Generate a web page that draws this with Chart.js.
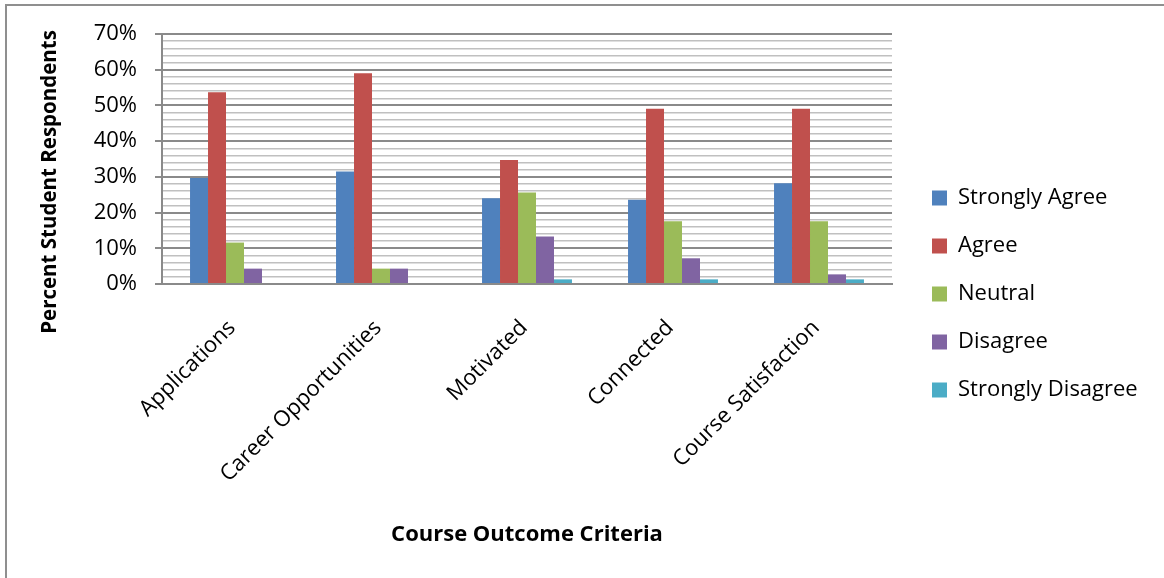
<!DOCTYPE html>
<html>
<head>
<meta charset="utf-8">
<script src="https://cdn.jsdelivr.net/npm/chart.js@4/dist/chart.umd.min.js"></script>
<style>
  html, body { margin: 0; padding: 0; background: #fff; overflow: hidden; }
  #wrap { position: relative; width: 1164px; height: 578px; }
  #frame { position: absolute; left: 5px; top: 4px; width: 1300px; height: 700px; border: 2px solid #8f8f8f; box-sizing: border-box; pointer-events: none; }
  canvas { position: absolute; left: 0; top: 0; }
</style>
</head>
<body>
<div id="wrap">
  <canvas id="c" width="1164" height="578"></canvas>
  <div id="frame"></div>
</div>
<script>
const categories = ["Applications", "Career Opportunities", "Motivated", "Connected", "Course Satisfaction"];
const seriesNames = ["Strongly Agree", "Agree", "Neutral", "Disagree", "Strongly Disagree"];
const stronglyAgree = [29.7, 31.5, 24.0, 23.6, 28.2];
const agree = [53.7, 59.0, 34.7, 49.1, 49.1];
const neutral = [11.6, 4.3, 25.6, 17.6, 17.6];
const disagree = [4.3, 4.3, 13.3, 7.2, 2.7];
const stronglyDisagree = [0, 0, 1.3, 1.3, 1.3];
const yTickLabels = ["0%", "10%", "20%", "30%", "40%", "50%", "60%", "70%"];
const xTitle = "Course Outcome Criteria";
const yTitle = "Percent Student Respondents";

const colors = ["#4F81BD", "#C0504D", "#9BBB59", "#8064A2", "#4BACC6"];
const seriesValues = [stronglyAgree, agree, neutral, disagree, stronglyDisagree];
const FONT = "'Open Sans', 'DejaVu Sans', sans-serif";

const yTitlePlugin = {
  id: 'yTitlePlugin',
  afterDraw(chart) {
    const ctx = chart.ctx;
    ctx.save();
    ctx.translate(50, 182);
    ctx.rotate(-Math.PI / 2);
    ctx.font = "bold 20.5px " + FONT;
    ctx.fillStyle = "#000";
    ctx.textAlign = "center";
    ctx.textBaseline = "middle";
    ctx.fillText(yTitle, 0, 0);
    ctx.restore();
  }
};

// Legend sits a little further from the plot (like the original layout)
const legendNudge = {
  id: 'legendNudge',
  beforeLayout(chart) {
    const lg = chart.legend;
    if (lg && !lg._nudged) {
      const orig = lg.fit;
      lg.fit = function () { orig.call(this); this.width = 268; };
      lg._nudged = true;
    }
  },
  afterLayout(chart) {
    const lg = chart.legend;
    if (!lg) return;
    lg.left += 14; lg.right += 14;
    lg.top += 1; lg.bottom += 1;
  }
};

new Chart(document.getElementById('c'), {
  type: 'bar',
  data: {
    labels: categories,
    datasets: seriesNames.map((n, i) => ({
      label: n,
      data: seriesValues[i],
      backgroundColor: colors[i],
      borderWidth: 0,
      categoryPercentage: 0.616,
      barPercentage: 1.0
    }))
  },
  options: {
    responsive: false,
    animation: false,
    layout: { padding: { left: 60, right: 4, top: 34, bottom: 26 } },
    plugins: {
      tooltip: { enabled: false },
      legend: {
        position: 'right',
        labels: {
          boxWidth: 15,
          boxHeight: 15,
          padding: 26,
          color: '#000',
          font: { family: FONT, size: 22 }
        }
      }
    },
    scales: {
      x: {
        grid: { display: false, drawTicks: false },
        border: { display: true, color: '#8a8a8a', width: 2 },
        ticks: {
          color: '#000',
          font: { family: FONT, size: 22 },
          minRotation: 45,
          maxRotation: 45,
          padding: 31,
          labelOffset: -3,
          autoSkip: false
        },
        title: {
          display: true,
          text: xTitle,
          color: '#000',
          font: { family: FONT, size: 22, weight: 'bold' },
          padding: { top: 0, bottom: 4 }
        },
        afterFit(scale) { scale.height = 578 - 26 - 284; }
      },
      y: {
        min: 0,
        max: 70,
        border: { display: true, color: '#8a8a8a', width: 2 },
        grid: {
          color: (c) => (c.tick && c.tick.value % 10 === 0) ? '#8a8a8a' : '#c0c0c0',
          lineWidth: (c) => (c.tick && c.tick.value % 10 === 0) ? 2 : 1.5,
          tickColor: (c) => (c.tick && c.tick.value % 10 === 0) ? '#8a8a8a' : 'rgba(0,0,0,0)',
          tickLength: 7,
          drawTicks: true
        },
        ticks: {
          stepSize: 2,
          autoSkip: false,
          color: '#000',
          padding: 18,
          font: { family: FONT, size: 22 },
          callback: (v) => (v % 10 === 0) ? yTickLabels[v / 10] : ''
        },
        afterFit(scale) { scale.width = 102; }
      }
    }
  },
  plugins: [yTitlePlugin, legendNudge]
});
</script>
</body>
</html>
